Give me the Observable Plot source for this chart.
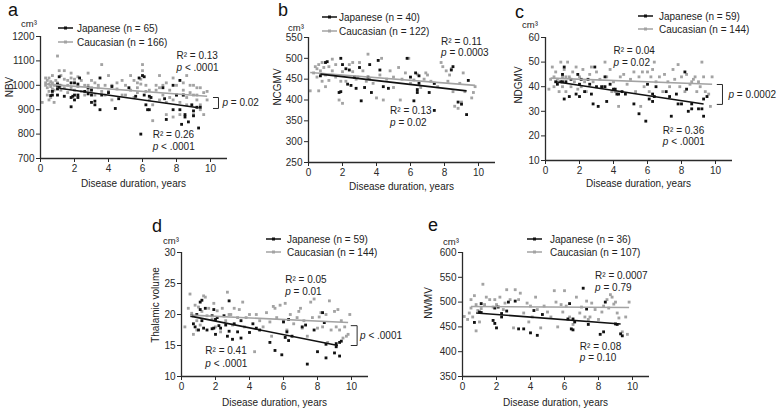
<!DOCTYPE html>
<html><head><meta charset="utf-8">
<script src="https://cdn.jsdelivr.net/npm/d3@7"></script>
<script src="https://cdn.jsdelivr.net/npm/@observablehq/plot@0.6"></script>
<style>
body{margin:0;background:#fff;}
#wrap{position:relative;width:778px;height:409px;overflow:hidden;background:#fff;font-family:"Liberation Sans",Arial,sans-serif;}
#wrap svg{position:absolute;}
</style></head><body><div id="wrap"></div>
<script>
// ---------- data ----------
const panelLetters = ["a","b","c","d","e"];
const yLabels = ["NBV","NCGMV","NDGMV","Thalamic volume","NWMV"];
const nJapanese = [65,40,59,59,36];
const nCaucasian = [166,122,144,144,107];
const r2Japanese = ["0.26","0.13","0.36","0.41","0.08"];
const pJapanese = ["< .0001","= 0.02","< .0001","< .0001","= 0.10"];
const r2Caucasian = ["0.13","0.11","0.04","0.05","0.0007"];
const pCaucasian = ["< .0001","= 0.0003","= 0.02","= 0.01","= 0.79"];
const pBetween = ["= 0.02", null, "= 0.0002", "< .0001", null];
const yDomains = [[700,1200],[250,550],[10,60],[10,30],[350,600]];
const yTickSteps = [100,50,10,5,50];
const xTicks = [0,2,4,6,8,10];
const xLabel = "Disease duration, years";

// regression fits [x0, y0, x1, y1]
const fitJapanese = [[1.1,988,9.3,908],[0.7,462,9.3,422],[0.6,42,9.3,33],[0.6,19.7,9.2,15.0],[0.8,478,9.3,456]];
const fitCaucasian = [[0.3,1005,9.8,955],[0.1,466,9.8,435],[0.3,43.5,9.8,41],[0.5,19.9,9.8,18.7],[0.5,491,9.8,489]];

// panel a: NBV
const aJapanese = [[0.7,975],[0.7,960],[0.6,958],[1.0,1000],[1.0,1005],[1.0,985],[1.0,960],[1.1,1035],[1.1,1000],[1.1,995],
[1.4,955],[1.8,912],[1.8,950],[1.9,955],[1.8,1010],[2.0,1010],[2.0,960],[2.0,940],[2.2,1005],[2.2,960],[2.2,950],[2.3,1030],
[2.6,975],[2.8,990],[2.8,965],[3.0,980],[3.0,960],[3.0,930],[3.2,920],[3.2,935],[3.5,900],[3.5,1030],[3.6,960],[4.0,970],
[4.2,995],[4.4,905],[4.6,945],[5.2,990],[5.6,955],[5.8,1030],[5.9,800],[6.0,1040],[6.1,960],[6.1,1035],[6.2,920],[6.3,900],
[6.4,900],[6.5,950],[6.4,955],[7.2,990],[7.3,945],[7.4,860],[7.8,1000],[7.8,900],[8.0,960],[8.2,1020],[8.2,900],[8.3,840],
[8.5,880],[8.5,870],[8.4,960],[8.7,850],[8.9,920],[9.0,875],[9.0,895],[9.2,910],[9.3,825],[9.4,910]];
const aCaucasian = [[0.1,930],[0.3,1000],[0.3,1010],[0.3,1030],[0.4,1020],[0.4,990],[0.4,960],[0.5,1005],[0.5,1030],[0.5,975],
[0.5,940],[0.6,1015],[0.6,995],[0.6,950],[0.7,1010],[0.7,1040],[0.7,985],[0.8,1000],[0.8,980],[0.8,930],[0.9,1020],[0.9,1000],
[1.0,1010],[1.0,990],[1.0,1120],[1.1,1060],[1.2,1040],[1.2,980],[1.2,1000],[1.4,1060],[1.4,1025],[1.4,990],[1.6,1020],[1.6,1000],
[1.6,970],[1.8,1050],[1.8,990],[1.8,1030],[2.0,1025],[2.0,980],[2.2,1035],[2.2,995],[2.4,1020],[2.4,975],[2.6,1000],[2.6,960],
[2.8,1050],[2.8,1000],[2.8,980],[3.0,990],[3.0,1020],[3.2,1010],[3.2,960],[3.4,1000],[3.4,990],[3.6,1085],[3.6,975],[3.8,1000],
[3.8,960],[4.0,1040],[4.0,975],[4.2,1000],[4.2,940],[4.5,1010],[4.5,985],[4.8,1020],[4.8,960],[5.0,1000],[5.0,960],[5.3,1040],
[5.3,980],[5.5,1020],[5.5,950],[5.7,1010],[5.7,970],[5.7,990],[5.9,1025],[5.9,1005],[6.0,1085],[6.0,1060],[6.2,1000],[6.2,975],
[6.4,980],[6.4,940],[6.6,855],[6.6,920],[6.8,1000],[6.8,980],[7.0,940],[7.0,990],[7.0,1040],[7.2,1000],[7.2,960],[7.4,1010],
[7.4,930],[7.4,880],[7.6,980],[7.6,950],[7.8,1030],[7.8,940],[7.8,870],[8.0,1000],[8.0,960],[8.2,880],[8.2,930],[8.4,1010],
[8.4,960],[8.4,980],[8.6,1040],[8.6,950],[8.6,920],[8.8,1000],[8.8,970],[9.0,960],[9.0,880],[9.0,1000],[9.2,960],[9.2,990],
[9.2,940],[9.4,990],[9.4,900],[9.4,920],[9.6,970],[9.6,880],[9.8,975],[9.8,940]];

// panel b: NCGMV
const bJapanese = [[0.7,458],[1.0,490],[1.1,492],[1.8,418],[1.9,420],[1.9,500],[2.0,485],[2.2,475],[2.3,438],[2.4,472],
[2.5,435],[2.7,455],[2.8,428],[3.0,478],[3.1,398],[3.3,430],[3.5,455],[3.6,485],[3.7,418],[4.1,495],[4.2,472],[4.4,432],
[4.7,428],[5.8,500],[6.0,455],[6.2,398],[6.3,465],[6.4,418],[6.5,440],[6.5,458],[7.1,418],[7.4,375],[7.4,440],[8.4,472],
[8.5,480],[8.8,395],[9.0,390],[9.3,365],[9.4,447],[6.4,425]];
const bCaucasian = [[0.1,422],[0.3,465],[0.4,480],[0.5,455],[0.5,475],[0.6,422],[0.6,485],[0.7,470],[0.8,445],[0.8,490],
[0.9,478],[1.0,432],[1.0,460],[1.2,480],[1.2,447],[1.4,498],[1.4,470],[1.6,455],[1.6,485],[1.8,400],[1.9,445],[2.0,392],
[2.0,468],[2.2,445],[2.4,485],[2.6,468],[2.6,490],[2.8,450],[2.9,455],[3.0,490],[3.2,470],[3.4,445],[3.5,510],[3.6,450],
[3.8,440],[4.0,405],[4.2,460],[4.3,500],[4.4,400],[4.6,450],[4.8,470],[5.0,430],[5.0,455],[5.3,478],[5.4,400],[5.5,450],
[5.7,465],[5.9,500],[6.0,440],[6.2,448],[6.4,462],[6.6,430],[6.8,450],[6.9,465],[7.0,460],[7.2,445],[7.4,440],[7.6,432],
[7.8,490],[7.9,480],[8.1,470],[8.2,445],[8.3,460],[8.5,420],[8.6,385],[8.8,380],[8.9,440],[9.0,395],[9.1,465],[9.2,420],
[9.6,405],[9.7,418],[9.8,432],[8.4,475]];

// panel c: NDGMV
const cJapanese = [[0.6,42],[0.7,41],[0.9,42],[1.0,45],[1.1,48],[1.1,35],[1.2,42],[1.4,36],[1.5,43],[1.8,37],[1.9,45],[2.0,41],
[2.0,36],[2.1,43],[2.3,38],[2.5,43],[2.6,41],[2.7,37],[2.8,33],[2.9,48],[3.0,40],[3.1,32],[3.3,40],[3.5,44],[3.6,34],[3.8,41],
[4.0,39],[4.1,39],[4.2,37],[4.3,37],[4.5,38],[4.7,37],[5.2,33],[5.5,29],[5.9,26],[6.0,41],[6.1,35],[6.3,34],[6.3,37],[6.4,36],
[6.5,40],[7.1,38],[7.3,36],[7.4,28],[7.7,37],[8.0,33],[8.2,46],[8.3,39],[8.4,30],[8.6,31],[8.6,33],[9.0,31],[9.2,31],[9.3,28],
[9.3,35],[9.5,36],[7.8,33],[1.0,42],[3.5,40]];
const cCaucasian = [[0.2,39],[0.3,43],[0.4,48],[0.5,44],[0.5,40],[0.6,46],[0.7,43],[0.8,38],[0.9,50],[1.0,44],[1.0,40],[1.1,47],
[1.2,38],[1.3,50],[1.4,44],[1.5,40],[1.6,46],[1.7,42],[1.8,48],[1.9,39],[2.0,44],[2.2,47],[2.3,42],[2.4,38],[2.6,45],[2.7,48],
[2.8,42],[3.0,46],[3.2,43],[3.4,40],[3.5,50],[3.6,44],[3.8,47],[4.0,42],[4.1,38],[4.3,32],[4.4,44],[4.6,45],[4.8,41],[5.0,43],
[5.2,46],[5.3,38],[5.5,44],[5.6,32],[5.7,46],[5.8,40],[6.0,46],[6.1,38],[6.2,44],[6.4,50],[6.5,42],[6.7,44],[6.9,38],[7.0,45],
[7.2,42],[7.3,40],[7.5,47],[7.6,43],[7.8,49],[7.9,40],[8.0,44],[8.2,38],[8.3,45],[8.5,41],[8.6,42],[8.8,44],[8.9,38],[9.0,42],
[9.1,40],[9.2,50],[9.3,44],[9.4,38],[9.6,37],[9.7,32],[9.8,44],[8.7,43],[6.3,47],[3.9,38],[2.1,40],[1.2,44]];

// panel d: Thalamic volume
const dJapanese = [[0.6,19.8],[0.7,18.5],[0.9,20.0],[1.0,17.5],[1.1,22.0],[1.1,20.8],[1.2,22.3],[1.2,19.0],[1.3,17.8],[1.4,21.0],
[1.5,17.5],[1.8,19.8],[1.8,17.7],[1.9,20.8],[1.9,17.8],[2.0,19.2],[2.0,16.8],[2.1,19.5],[2.3,17.8],[2.5,19.8],[2.6,18.3],
[2.7,16.5],[2.8,22.2],[2.8,17.3],[3.0,16.0],[3.1,18.5],[3.3,17.2],[3.5,16.2],[3.5,19.0],[4.0,17.1],[4.2,18.5],[4.4,17.8],
[4.6,17.5],[5.2,15.5],[5.5,14.2],[5.9,13.5],[6.0,18.8],[6.1,16.3],[6.2,17.2],[6.3,15.8],[6.3,19.2],[6.5,16.5],[7.1,18.0],
[7.3,18.3],[7.4,12.0],[7.8,17.5],[8.0,14.0],[8.3,20.3],[8.4,18.7],[8.5,13.0],[8.5,15.2],[9.0,13.8],[9.1,14.8],[9.1,15.3],
[9.3,13.3],[9.3,15.5],[9.4,15.7],[0.8,18.0],[2.2,18.2]];
const dCaucasian = [[0.2,18.0],[0.4,21.0],[0.5,23.3],[0.6,20.2],[0.7,16.8],[0.8,21.5],[0.9,19.0],[1.0,21.2],[1.1,18.3],[1.2,20.5],
[1.4,22.8],[1.5,19.8],[1.6,21.0],[1.8,19.2],[1.9,21.8],[2.0,18.0],[2.1,20.6],[2.3,17.2],[2.4,21.0],[2.6,19.0],[2.7,23.6],
[2.8,20.0],[3.0,18.3],[3.1,21.0],[3.3,19.5],[3.6,22.0],[3.7,18.0],[3.8,19.5],[4.0,20.0],[4.3,14.0],[4.4,20.0],[4.6,19.0],
[4.8,18.0],[5.0,20.3],[5.2,18.8],[5.3,16.5],[5.5,21.0],[5.6,19.5],[5.8,21.5],[6.0,19.0],[6.1,21.8],[6.2,17.5],[6.4,20.0],
[6.6,18.5],[6.8,19.5],[7.0,21.0],[7.1,17.8],[7.2,19.0],[7.4,16.5],[7.6,22.0],[7.7,19.5],[7.8,22.5],[8.0,17.8],[8.1,19.6],
[8.3,18.0],[8.5,20.0],[8.6,15.5],[8.7,22.2],[8.8,17.5],[9.0,20.5],[9.1,18.0],[9.2,20.8],[9.3,17.5],[9.4,19.0],[9.5,16.2],
[9.6,18.0],[9.7,16.5],[9.8,16.8],[9.9,20.0],[8.2,20.3],[6.9,20.5],[5.4,21.3],[3.4,20.8],[2.9,20.0],[1.3,23.0],[0.9,17.5]];

// panel e: NWMV
const eJapanese = [[0.7,459],[1.0,480],[1.1,497],[1.8,463],[1.9,457],[1.9,488],[2.0,448],[2.1,490],[2.3,470],[2.3,477],
[2.6,482],[2.7,500],[3.1,502],[3.3,446],[3.6,446],[4.0,438],[4.2,483],[4.4,433],[4.7,475],[6.2,466],[6.3,497],[6.4,446],
[6.5,444],[6.5,466],[6.6,460],[7.1,528],[7.3,486],[7.4,455],[8.1,435],[8.3,440],[8.4,500],[9.0,456],[9.1,455],[9.3,436],
[9.4,432],[1.1,479]];
const eCaucasian = [[0.1,471],[0.3,465],[0.4,478],[0.5,488],[0.5,505],[0.6,470],[0.7,513],[0.8,442],[0.8,495],[0.9,483],
[1.0,460],[1.1,487],[1.2,536],[1.3,495],[1.4,510],[1.6,505],[1.8,490],[1.9,505],[2.0,495],[2.2,510],[2.4,485],[2.6,525],
[2.8,505],[3.0,448],[3.1,525],[3.3,505],[3.4,518],[3.6,478],[3.8,498],[4.0,492],[4.1,470],[4.3,510],[4.4,485],[4.6,448],
[4.8,492],[5.0,480],[5.2,470],[5.4,523],[5.5,500],[5.6,450],[5.9,480],[6.0,523],[6.1,492],[6.3,470],[6.5,455],[6.7,510],
[6.9,478],[7.0,490],[7.2,470],[7.3,502],[7.5,470],[7.6,498],[7.8,485],[8.0,465],[8.2,480],[8.3,492],[8.5,505],[8.6,488],
[8.7,515],[8.8,510],[8.9,496],[9.0,500],[9.1,478],[9.2,468],[9.4,440],[9.6,470],[9.8,500],[9.7,435],[7.4,465],[5.8,495],
[3.9,460],[2.5,498]];

const japaneseData = [aJapanese,bJapanese,cJapanese,dJapanese,eJapanese];
const caucasianData = [aCaucasian,bCaucasian,cCaucasian,dCaucasian,eCaucasian];

// ---------- layout (pixels / annotation anchors) ----------
const layout = [
 {left:0,top:0,w:260,h:200,ml:40,mr:33,mt:36,mb:42,letter:[8,16],cm:[21,26.5],ylab:[9,87],xlab:[133.5,186.5],
  legend:{lx:58,y1:28,y2:42,tx:77},statCa:{x:8.0,y1:1122,y2:1073},statJp:{x:6.6,y1:798,y2:749},
  bracket:{x:10.47,x0:10.17,top:950,bot:905,tx:10.7}},
 {left:255,top:0,w:260,h:200,ml:53,mr:20,mt:37,mb:38,letter:[278,16],cm:[288,30.5],ylab:[277,87],xlab:[401.5,189.5],
  legend:{lx:322,y1:17,y2:31,tx:339},statCa:{x:7.8,y1:540,y2:514},statJp:{x:4.8,y1:375,y2:346}},
 {left:510,top:0,w:268,h:200,ml:35,mr:46,mt:37,mb:40,letter:[515,18],cm:[522,27.5],ylab:[518,85],xlab:[638.5,186.5],
  legend:{lx:638,y1:16,y2:29,tx:659},statCa:{x:4.0,y1:54.7,y2:49.8},statJp:{x:6.9,y1:22.2,y2:17.7},
  bracket:{x:10.41,x0:10.1,top:40.9,bot:32.8,tx:10.76}},
 {left:160,top:200,w:260,h:209,ml:21,mr:52,mt:52,mb:33,letter:[152,232],cm:[163,244],ylab:[155,305],xlab:[274.5,405.5],
  legend:{lx:266,y1:239,y2:252,tx:287},statCa:{x:6.1,y1:25.6,y2:23.7},statJp:{x:1.4,y1:14.2,y2:12.1},
  bracket:{x:10.33,x0:9.98,top:18.2,bot:15.0,tx:10.5}},
 {left:420,top:200,w:260,h:209,ml:42,mr:31,mt:52,mb:33,letter:[428,231],cm:[443,244.5],ylab:[428.5,303],xlab:[555.5,405.5],
  legend:{lx:527,y1:239,y2:252,tx:550},statCa:{x:7.8,y1:553.6,y2:529},statJp:{x:6.9,y1:410,y2:388}}
];

const BLACK = "#111", GREY = "#a3a3a3", AXIS = "#2a2a2a", TEXT = "#222";
const FONT = "'Liberation Sans', Arial, sans-serif";
const wrap = document.getElementById("wrap");

layout.forEach((L, i) => {
  const [y0, y1] = yDomains[i];
  const yTicks = d3.range(y0, y1 + yTickSteps[i] / 2, yTickSteps[i]);
  const stat = (pos, r2, pv) => [
    Plot.text([0], {x: () => pos.x, y: () => pos.y1, text: () => "R² = " + r2, textAnchor: "start", fontSize: 10, fill: TEXT}),
    Plot.text([0], {x: () => pos.x, y: () => pos.y2, text: () => "p", fontStyle: "italic", textAnchor: "start", fontSize: 10, fill: TEXT}),
    Plot.text([0], {x: () => pos.x, y: () => pos.y2, text: () => " " + pv, dx: 5.6, textAnchor: "start", fontSize: 10, fill: TEXT})
  ];
  const marks = [
    Plot.axisX(xTicks, {tickSize: 4, tickPadding: 2, label: null, fontSize: 10, color: AXIS, tickFormat: d => String(d)}),
    Plot.axisY(yTicks, {tickSize: 4, tickPadding: 2, label: null, fontSize: 10, color: AXIS, tickFormat: d => String(d)}),
    Plot.dot(caucasianData[i], {x: d => d[0], y: d => d[1], symbol: "square", r: 1.6, fill: GREY}),
    Plot.dot(japaneseData[i], {x: d => d[0], y: d => d[1], symbol: "square", r: 1.6, fill: BLACK}),
    Plot.link([fitCaucasian[i]], {x1: d => d[0], y1: d => d[1], x2: d => d[2], y2: d => d[3], stroke: GREY, strokeWidth: 1.6}),
    Plot.link([fitJapanese[i]], {x1: d => d[0], y1: d => d[1], x2: d => d[2], y2: d => d[3], stroke: BLACK, strokeWidth: 1.6}),
    Plot.ruleX([0], {stroke: AXIS, strokeWidth: 1.3}),
    Plot.ruleY([y0], {stroke: AXIS, strokeWidth: 1.3}),
    ...stat(L.statCa, r2Caucasian[i], pCaucasian[i]),
    ...stat(L.statJp, r2Japanese[i], pJapanese[i])
  ];
  if (pBetween[i] && L.bracket) {
    const B = L.bracket;
    marks.push(Plot.line([[B.x0, B.top], [B.x, B.top], [B.x, B.bot], [B.x0, B.bot]], {x: d => d[0], y: d => d[1], stroke: AXIS, strokeWidth: 1}));
    marks.push(Plot.text([0], {x: () => B.tx, y: () => (B.top + B.bot) / 2, text: () => "p", fontStyle: "italic", textAnchor: "start", fontSize: 10, fill: TEXT}));
    marks.push(Plot.text([0], {x: () => B.tx, y: () => (B.top + B.bot) / 2, text: () => " " + pBetween[i], dx: 5.6, textAnchor: "start", fontSize: 10, fill: TEXT}));
  }
  const svg = Plot.plot({
    width: L.w, height: L.h,
    marginLeft: L.ml, marginRight: L.mr, marginTop: L.mt, marginBottom: L.mb,
    x: {domain: [0, 11]},
    y: {domain: [y0, y1]},
    style: {fontFamily: FONT, fontSize: "10px", color: AXIS, background: "transparent", overflow: "visible"},
    marks
  });
  svg.style.left = L.left + "px";
  svg.style.top = L.top + "px";
  wrap.appendChild(svg);
});

// overlay: letters, units, axis titles, legends
const ov = d3.select(wrap).append("svg").attr("width", 778).attr("height", 409)
  .style("left", "0px").style("top", "0px").style("font-family", FONT).style("overflow", "visible");
layout.forEach((L, i) => {
  ov.append("text").attr("x", L.letter[0]).attr("y", L.letter[1]).attr("font-size", 18).attr("fill", "#111").text(panelLetters[i]);
  ov.append("text").attr("x", L.cm[0]).attr("y", L.cm[1]).attr("font-size", 9.5).attr("fill", TEXT).text("cm³");
  ov.append("text").attr("transform", `translate(${L.ylab[0]},${L.ylab[1]}) rotate(-90)`)
    .attr("text-anchor", "middle").attr("dominant-baseline", "central").attr("font-size", 10).attr("fill", TEXT).text(yLabels[i]);
  ov.append("text").attr("x", L.xlab[0]).attr("y", L.xlab[1]).attr("text-anchor", "middle")
    .attr("font-size", 10).attr("fill", TEXT).text(xLabel);
  const lg = L.legend;
  [[lg.y1, BLACK, `Japanese (n = ${nJapanese[i]})`], [lg.y2, GREY, `Caucasian (n = ${nCaucasian[i]})`]].forEach(([y, c, t]) => {
    ov.append("line").attr("x1", lg.lx).attr("x2", lg.lx + 15).attr("y1", y).attr("y2", y).attr("stroke", c).attr("stroke-width", 1.5);
    ov.append("rect").attr("x", lg.lx + 6).attr("y", y - 1.5).attr("width", 3).attr("height", 3).attr("fill", c);
    ov.append("text").attr("x", lg.tx).attr("y", y).attr("dominant-baseline", "central").attr("font-size", 10).attr("fill", TEXT).text(t);
  });
});
</script></body></html>
